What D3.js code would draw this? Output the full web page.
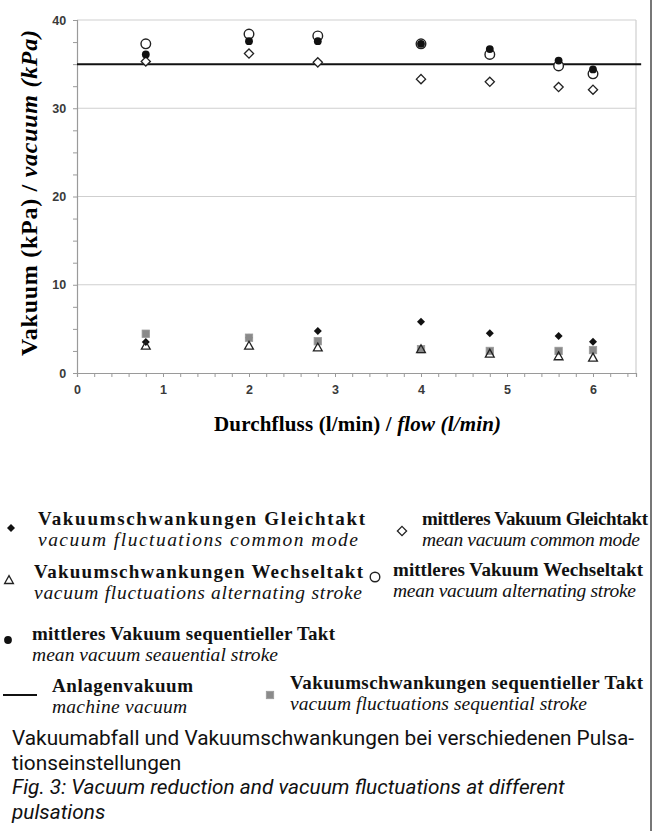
<!DOCTYPE html>
<html>
<head>
<meta charset="utf-8">
<script src="https://cdn.jsdelivr.net/npm/d3@7"></script>
<style>
  body { margin: 0; background: #fff; }
  svg { display: block; }
</style>
</head>
<body>
<svg id="chart"></svg>
<script>
const svg = d3.select("#chart");
const chartObj = { width: 660, height: 831 };

// flow values (l/min)
const flows = [0.8, 2, 2.8, 4, 4.8, 5.6, 6];

// mean vacuum (kPa)
const meanCommon = [35.3, 36.2, 35.2, 33.3, 33.0, 32.4, 32.1];
const meanAlternating = [37.3, 38.4, 38.2, 37.3, 36.1, 34.8, 33.9];
const meanSequential = [36.1, 37.6, 37.6, 37.3, 36.7, 35.4, 34.4];

// vacuum fluctuations (kPa)
const flucCommon = [3.5, 4.0, 4.75, 5.8, 4.5, 4.2, 3.55];
const flucAlternating = [3.1, 3.1, 2.9, 2.7, 2.2, 1.9, 1.75];
const flucSequential = [4.45, 4.0, 3.6, 2.7, 2.5, 2.5, 2.6];

// machine vacuum
const machineVacuum = 35;
const machineFlowExtent = [0, 6.56];

const xTicks = [0, 1, 2, 3, 4, 5, 6];
const yTicks = [0, 10, 20, 30, 40];

const serif = "'Liberation Serif', 'Times New Roman', serif";
const sans = "'Liberation Sans', Arial, sans-serif";

svg.attr("width", chartObj.width).attr("height", chartObj.height);

const x = d3.scaleLinear().domain([0, 6.5]).range([77, 636]);
const y = d3.scaleLinear().domain([0, 40]).range([373, 20]);

// grid lines
svg.append("g")
  .selectAll("line")
  .data(yTicks.filter((d) => d > 0))
  .join("line")
  .attr("x1", x(0))
  .attr("x2", x(6.5))
  .attr("y1", (d) => y(d))
  .attr("y2", (d) => y(d))
  .attr("stroke", "#cfcfcf")
  .attr("stroke-width", 1.2);

svg.append("line")
  .attr("x1", x(6.5))
  .attr("x2", x(6.5))
  .attr("y1", y(40))
  .attr("y2", y(0))
  .attr("stroke", "#cfcfcf")
  .attr("stroke-width", 1.2);

// axes
const isMajor = (d) => Math.abs(d - Math.round(d)) < 1e-6 && xTicks.includes(Math.round(d));

const xAxis = d3.axisBottom(x)
  .tickValues(d3.range(0, 6.41, 0.2))
  .tickSize(4)
  .tickFormat((d) => (isMajor(d) ? d3.format("d")(Math.round(d)) : ""));

const gx = svg.append("g")
  .attr("transform", `translate(0,${y(0)})`)
  .call(xAxis);

const yAxis = d3.axisLeft(y)
  .tickValues(d3.range(0, 40.1, 2.5))
  .tickSize(4)
  .tickFormat((d) => (yTicks.includes(d) ? d : ""));

const gy = svg.append("g")
  .attr("transform", `translate(${x(0)},0)`)
  .call(yAxis);

[gx, gy].forEach((g) => {
  g.select(".domain").attr("stroke", "#9a9a9a").attr("stroke-width", 1.2);
  g.selectAll(".tick line").attr("stroke", "#9a9a9a");
  g.selectAll(".tick text")
    .attr("font-family", sans)
    .attr("font-weight", "bold")
    .attr("font-size", 12.5)
    .attr("fill", "#3a3a3a");
});
gx.selectAll(".tick text").attr("dy", "1.1em");
gy.selectAll(".tick text").attr("dx", "-0.3em");

// axis titles
svg.append("text")
  .attr("x", 214)
  .attr("y", 431)
  .attr("font-family", serif)
  .attr("font-weight", "bold")
  .attr("font-size", 21)
  .attr("textLength", 287)
  .attr("lengthAdjust", "spacing")
  .call((t) => {
    t.append("tspan").text("Durchfluss (l/min) / ");
    t.append("tspan").attr("font-style", "italic").text("flow (l/min)");
  });

svg.append("text")
  .attr("transform", `translate(37,356) rotate(-90)`)
  .attr("font-family", serif)
  .attr("font-weight", "bold")
  .attr("font-size", 24)
  .attr("textLength", 326)
  .attr("lengthAdjust", "spacing")
  .call((t) => {
    t.append("tspan").text("Vakuum (kPa) / ");
    t.append("tspan").attr("font-style", "italic").text("vacuum (kPa)");
  });

// machine vacuum line
svg.append("line")
  .attr("x1", x(machineFlowExtent[0]))
  .attr("x2", x(machineFlowExtent[1]))
  .attr("y1", y(machineVacuum))
  .attr("y2", y(machineVacuum))
  .attr("stroke", "#111")
  .attr("stroke-width", 2);

const diamond = (s) => `M0,${-s}L${s},0L0,${s}L${-s},0Z`;
const triangle = (s) => `M0,${-s}L${s},${s * 0.8}L${-s},${s * 0.8}Z`;

const drawPoints = (values, draw) => {
  const g = svg.append("g");
  values.forEach((v, i) => {
    draw(g.append("g").attr("transform", `translate(${x(flows[i])},${y(v)})`));
  });
};

const markOpenDiamond = (g) => g.append("path").attr("d", diamond(4.6)).attr("fill", "#fff").attr("stroke", "#222").attr("stroke-width", 1.3);
const markOpenCircle = (g) => g.append("circle").attr("r", 4.8).attr("fill", "#fff").attr("stroke", "#222").attr("stroke-width", 1.4);
const markFilledCircle = (g) => g.append("circle").attr("r", 3.9).attr("fill", "#111");
const markFilledDiamond = (g) => g.append("path").attr("d", diamond(4)).attr("fill", "#111");
const markSquare = (g) => g.append("rect").attr("x", -3.7).attr("y", -3.7).attr("width", 7.4).attr("height", 7.4).attr("fill", "#8a8a8a").attr("stroke", "#9a9a9a").attr("stroke-width", 0.8);
const markTriangle = (g) => g.append("path").attr("d", triangle(4.4)).attr("fill", "none").attr("stroke", "#222").attr("stroke-width", 1.3);

drawPoints(meanCommon, markOpenDiamond);
drawPoints(meanAlternating, markOpenCircle);
drawPoints(meanSequential, markFilledCircle);
drawPoints(flucCommon, markFilledDiamond);
drawPoints(flucSequential, markSquare);
drawPoints(flucAlternating, markTriangle);

// right frame
svg.append("line")
  .attr("x1", 651)
  .attr("x2", 651)
  .attr("y1", 0)
  .attr("y2", chartObj.height)
  .attr("stroke", "#555")
  .attr("stroke-width", 1.6);

// legend
const legendItems = [
  { mark: markFilledDiamond, mx: 11, my: 528, tx: 38, ty: 525, de: "Vakuumschwankungen Gleichtakt", deW: 327, en: "vacuum fluctuations common mode", enW: 320 },
  { mark: markOpenDiamond, mx: 402, my: 531, tx: 422, ty: 525, de: "mittleres Vakuum Gleichtakt", deW: 226, en: "mean vacuum common mode", enW: 218 },
  { mark: markTriangle, mx: 9, my: 580, tx: 34, ty: 578, de: "Vakuumschwankungen Wechseltakt", deW: 329, en: "vacuum fluctuations alternating stroke", enW: 328 },
  { mark: markOpenCircle, mx: 375, my: 577, tx: 393, ty: 576, de: "mittleres Vakuum Wechseltakt", deW: 250, en: "mean vacuum alternating stroke", enW: 243 },
  { mark: markFilledCircle, mx: 8, my: 640, tx: 32, ty: 640, de: "mittleres Vakuum sequentieller Takt", deW: 303, en: "mean vacuum seauential stroke", enW: 246 },
  { mark: null, mx: 20, my: 695, tx: 52, ty: 692, de: "Anlagenvakuum", deW: 141, en: "machine vacuum", enW: 135 },
  { mark: markSquare, mx: 270, my: 695, tx: 290, ty: 689, de: "Vakuumschwankungen sequentieller Takt", deW: 353, en: "vacuum fluctuations sequential stroke", enW: 297 },
];

const legend = svg.append("g");
legendItems.forEach((item) => {
  const mg = legend.append("g").attr("transform", `translate(${item.mx},${item.my})`);
  if (item.mark) {
    item.mark(mg);
  } else {
    mg.append("line").attr("x1", -17).attr("x2", 17).attr("stroke", "#111").attr("stroke-width", 2);
  }
  legend.append("text")
    .attr("x", item.tx)
    .attr("y", item.ty)
    .attr("font-family", serif)
    .attr("font-weight", "bold")
    .attr("font-size", 19)
    .attr("textLength", item.deW)
    .attr("lengthAdjust", "spacing")
    .attr("fill", "#111")
    .text(item.de);
  legend.append("text")
    .attr("x", item.tx)
    .attr("y", item.ty + 21)
    .attr("font-family", serif)
    .attr("font-style", "italic")
    .attr("font-size", 19.5)
    .attr("textLength", item.enW)
    .attr("lengthAdjust", "spacing")
    .attr("fill", "#111")
    .text(item.en);
});

// caption
const captionLines = [
  { text: "Vakuumabfall und Vakuumschwankungen bei verschiedenen Pulsa-", italic: false },
  { text: "tionseinstellungen", italic: false },
  { text: "Fig. 3: Vacuum reduction and vacuum fluctuations at different", italic: true },
  { text: "pulsations", italic: true },
];
svg.append("g")
  .selectAll("text")
  .data(captionLines)
  .join("text")
  .attr("x", 12)
  .attr("y", (d, i) => 745 + i * 24.5)
  .attr("font-family", "'Liberation Sans Narrow', 'Roboto', sans-serif")
  .attr("font-size", 20.8)
  .attr("font-style", (d) => (d.italic ? "italic" : "normal"))
  .attr("fill", "#111")
  .text((d) => d.text);
</script>
</body>
</html>
